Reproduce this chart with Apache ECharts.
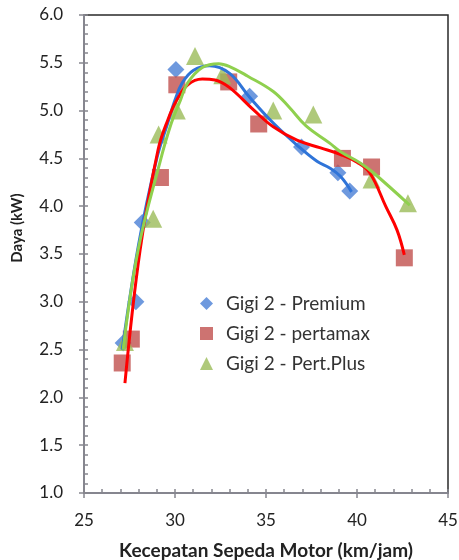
<!DOCTYPE html>
<html><head><meta charset="utf-8">
<script src="https://cdn.jsdelivr.net/npm/echarts@6/dist/echarts.min.js"></script>
<style>html,body{margin:0;padding:0;background:#fff}#c{width:459px;height:560px}</style>
</head><body><div id="c"></div>
<script>
// Measured points
const premium = [[27.15,2.57],[27.85,3.0],[28.2,3.83],[30.05,5.43],[34.1,5.15],[36.95,4.62],[38.95,4.35],[39.6,4.16]];
const pertamax = [[27.1,2.36],[27.6,2.61],[29.2,4.3],[30.1,5.27],[32.95,5.3],[34.6,4.86],[39.2,4.5],[40.8,4.41],[42.6,3.46]];
const pertPlus = [[27.25,2.58],[28.8,3.87],[29.1,4.75],[30.1,5.0],[31.1,5.57],[32.6,5.37],[35.4,5.0],[37.6,4.96],[40.8,4.28],[42.8,4.03]];
// Trend lines
const premiumTrend = [[27.1,2.5],[28.0,3.6],[29.0,4.5],[29.6,4.87],[30.0,5.11],[30.4,5.29],[31.0,5.42],[31.9,5.47],[33.0,5.39],[34.1,5.14],[35.4,4.87],[36.7,4.64],[37.8,4.47],[38.5,4.4],[39.1,4.31],[39.7,4.15]];
const pertamaxTrend = [[27.25,2.15],[28.08,3.54],[29.07,4.59],[29.6,4.9],[30.1,5.11],[30.7,5.27],[31.5,5.33],[32.2,5.32],[33.0,5.24],[34.3,5.01],[35.4,4.83],[36.7,4.69],[38.0,4.61],[39.1,4.54],[40.0,4.46],[40.7,4.35],[41.6,3.99],[42.2,3.75],[42.6,3.49]];
const pertPlusTrend = [[27.15,2.5],[27.97,3.54],[29.2,4.48],[29.8,4.87],[30.3,5.11],[30.7,5.29],[31.5,5.45],[32.4,5.49],[33.0,5.46],[34.0,5.36],[35.4,5.2],[36.3,5.03],[37.2,4.84],[38.5,4.66],[39.1,4.57],[40.2,4.45],[40.9,4.35],[42.9,4.01]];
const seriesNames = ['Gigi 2 - Premium','Gigi 2 - pertamax','Gigi 2 - Pert.Plus'];
const xTitle = 'Kecepatan Sepeda Motor (km/jam)';
const yTitle = 'Daya (kW)';

const font = 'Lato, "Open Sans", sans-serif';
const rect = {left:84, right:11, top:15, bottom:67};
const chart = echarts.init(document.getElementById('c'), null, {renderer:'canvas'});
const axisGray = '#86868f';
chart.setOption({
  animation:false,
  backgroundColor:'#ffffff',
  grid:[
    Object.assign({show:true, outerBoundsMode:'none', containLabel:false, borderColor:'#2a2a2a', borderWidth:1.5, backgroundColor:'transparent'}, rect),
    Object.assign({show:false, outerBoundsMode:'none', containLabel:false}, rect)
  ],
  graphic:[{
    type:'text', x:17, y:228, rotation:Math.PI/2,
    style:{text:yTitle, fontFamily:font, fontSize:15, fontWeight:'bold', fill:'#222', align:'center', verticalAlign:'middle'}
  }],
  legend:{
    orient:'vertical', left:200, top:294, padding:0, itemGap:11, itemWidth:13, itemHeight:13,
    textStyle:{fontFamily:font, fontSize:19, lineHeight:19, color:'#333', padding:[0,0,0,8]},
    data:[
      {name:seriesNames[0], icon:'diamond', itemStyle:{color:'#4a7fd6'}},
      {name:seriesNames[1], icon:'rect', itemStyle:{color:'#c0504d'}},
      {name:seriesNames[2], icon:'triangle', itemStyle:{color:'#9bbb59'}}
    ]
  },
  xAxis:[
    {type:'value', gridIndex:0, min:25, max:45, interval:5,
     axisLine:{show:true, onZero:false, lineStyle:{color:axisGray, width:2}},
     axisTick:{show:true, inside:false, length:5, lineStyle:{color:axisGray, width:1.5}},
     splitLine:{show:false},
     axisLabel:{fontFamily:font, fontSize:17, color:'#222', margin:19},
     name:xTitle, nameLocation:'middle', nameGap:48,
     nameTextStyle:{fontFamily:font, fontSize:19, fontWeight:'bold', color:'#222'}},
    {type:'value', gridIndex:1, min:25, max:45, interval:1,
     axisLine:{show:false}, axisLabel:{show:false}, splitLine:{show:false},
     axisTick:{show:true, inside:true, length:4, lineStyle:{color:axisGray, width:1.5}}}
  ],
  yAxis:[
    {type:'value', gridIndex:0, min:1, max:6, interval:0.5,
     axisLine:{show:true, onZero:false, lineStyle:{color:axisGray, width:2}},
     axisTick:{show:true, inside:false, length:5, lineStyle:{color:axisGray, width:1.5}},
     splitLine:{show:false},
     axisLabel:{fontFamily:font, fontSize:17, color:'#222', margin:21, formatter:v=>v.toFixed(1)}},
    {type:'value', gridIndex:1, min:1, max:6, interval:0.1,
     axisLine:{show:false}, axisLabel:{show:false}, splitLine:{show:false},
     axisTick:{show:true, inside:true, length:4, lineStyle:{color:axisGray, width:1.5}}}
  ],
  series:[
    {name:seriesNames[0], type:'scatter', data:premium, symbol:'diamond', symbolSize:[17,17], itemStyle:{color:'#4a7fd6'}, z:2},
    {name:seriesNames[1], type:'scatter', data:pertamax, symbol:'rect', symbolSize:17, itemStyle:{color:'#c0504d'}, z:2},
    {name:seriesNames[2], type:'scatter', data:pertPlus, symbol:'triangle', symbolSize:18, itemStyle:{color:'#9bbb59'}, z:2},
    {name:'trend1', type:'line', data:premiumTrend, smooth:0.4, showSymbol:false, symbol:'none', lineStyle:{color:'#2f74d8', width:3}, z:3},
    {name:'trend2', type:'line', data:pertamaxTrend, smooth:0.4, showSymbol:false, symbol:'none', lineStyle:{color:'#ff0000', width:3}, z:4},
    {name:'trend3', type:'line', data:pertPlusTrend, smooth:0.4, showSymbol:false, symbol:'none', lineStyle:{color:'#8fd04e', width:3}, z:5}
  ]
});
</script></body></html>
